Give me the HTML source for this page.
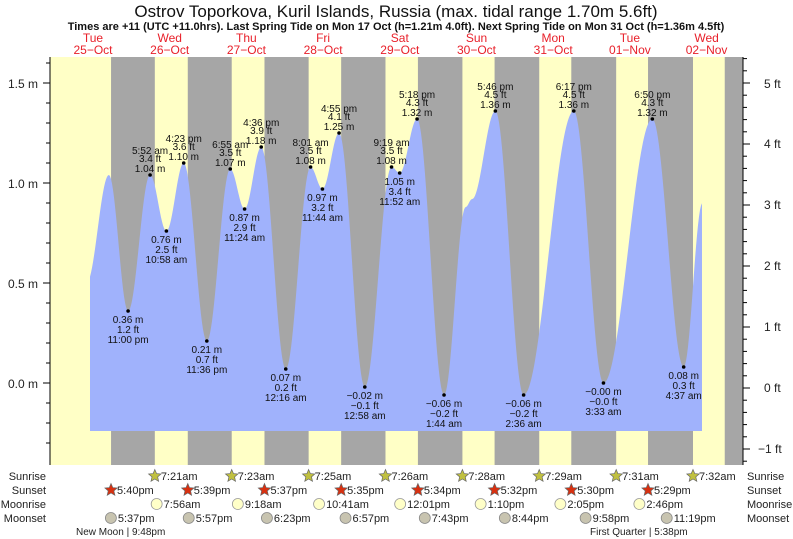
<!DOCTYPE html>
<html><head><meta charset="utf-8"><style>
body{margin:0;background:#fff}
svg{display:block;font-family:"Liberation Sans",sans-serif}
</style></head><body>
<svg id="s" width="793" height="539" xmlns="http://www.w3.org/2000/svg">
<g id="bands"></g>
<path id="water" fill="#a0b2fc" d=""/>
<g id="pts" font-size="10" fill="#111" text-anchor="middle"></g>
<line x1="50" y1="57" x2="50" y2="465" stroke="#000"/>
<line x1="743" y1="57" x2="743" y2="465" stroke="#000"/>
<g id="ticks" stroke="#000"></g>
<g font-size="12" fill="#222" text-anchor="end">
<text x="38" y="88">1.5 m</text><text x="38" y="188">1.0 m</text><text x="38" y="288">0.5 m</text><text x="38" y="388">0.0 m</text>
</g>
<g font-size="12" fill="#222" text-anchor="start">
<text x="764" y="88">5 ft</text><text x="764" y="148">4 ft</text><text x="764" y="209">3 ft</text><text x="764" y="270">2 ft</text><text x="764" y="331">1 ft</text><text x="764" y="392">0 ft</text><text x="758" y="453">−1 ft</text>
</g>
<text x="396" y="17" font-size="17" text-anchor="middle" fill="#111">Ostrov Toporkova, Kuril Islands, Russia (max. tidal range 1.70m 5.6ft)</text>
<text x="396" y="30" font-size="11" font-weight="bold" text-anchor="middle" fill="#111">Times are +11 (UTC +11.0hrs). Last Spring Tide on Mon 17 Oct (h=1.21m 4.0ft). Next Spring Tide on Mon 31 Oct (h=1.36m 4.5ft)</text>
<g id="days" font-size="12" fill="#e8202a" text-anchor="middle"></g>
<g font-size="11" fill="#222">
<text x="46" y="480" text-anchor="end">Sunrise</text><text x="46" y="494" text-anchor="end">Sunset</text><text x="46" y="508" text-anchor="end">Moonrise</text><text x="46" y="522" text-anchor="end">Moonset</text>
<text x="747" y="480">Sunrise</text><text x="747" y="494">Sunset</text><text x="747" y="508">Moonrise</text><text x="747" y="522">Moonset</text>
<text x="76" y="535" font-size="10">New Moon | 9:48pm</text>
<text x="590" y="535" font-size="10">First Quarter | 5:38pm</text>
</g>
<g id="ev" font-size="11" fill="#222"></g>
</svg>
<script>
const NS="http://www.w3.org/2000/svg";
function X(h){return 131.3+3.2*h;}
function Y(m){return 383-200*m;}
function el(p,t,a,txt){const e=document.createElementNS(NS,t);for(const k in a)e.setAttribute(k,a[k]);if(txt!==undefined)e.textContent=txt;document.getElementById(p).appendChild(e);return e;}
el("bands","rect",{x:50,y:57,width:693,height:408,fill:"#ffffc6"});
const ss=[-6.33,17.65,41.62,65.58,89.57,113.53,137.5,161.48,185.45];
const sr=[7.35,31.38,55.42,79.43,103.47,127.48,151.52,175.53,200];
for(let i=0;i<ss.length;i++){const a=X(ss[i]),b=Math.min(X(sr[i]),743);el("bands","rect",{x:a,y:57,width:b-a,height:408,fill:"#a6a6a6"});}
const dn=[["Tue","25\u2212Oct"],["Wed","26\u2212Oct"],["Thu","27\u2212Oct"],["Fri","28\u2212Oct"],["Sat","29\u2212Oct"],["Sun","30\u2212Oct"],["Mon","31\u2212Oct"],["Tue","01\u2212Nov"],["Wed","02\u2212Nov"]];
dn.forEach((d,i)=>{const x=93+76.7*i;el("days","text",{x:x,y:42},d[0]);el("days","text",{x:x,y:54},d[1]);});
const T=[[-14,0.5],[-7,1.04],[-1,0.36,"11:00 pm","1.2 ft",0],[5.87,1.04,"5:52 am","3.4 ft",1],[10.97,0.76,"10:58 am","2.5 ft",0],[16.38,1.10,"4:23 pm","3.6 ft",1],[23.6,0.21,"11:36 pm","0.7 ft",0],[30.92,1.07,"6:55 am","3.5 ft",1],[35.4,0.87,"11:24 am","2.9 ft",0],[40.6,1.18,"4:36 pm","3.9 ft",1],[48.27,0.07,"12:16 am","0.2 ft",0],[56.02,1.08,"8:01 am","3.5 ft",1],[59.73,0.97,"11:44 am","3.2 ft",0],[64.92,1.25,"4:55 pm","4.1 ft",1],[72.97,-0.02,"12:58 am","\u22120.1 ft",0],[81.32,1.08,"9:19 am","3.5 ft",1],[83.87,1.05,"11:52 am","3.4 ft",0],[89.3,1.32,"5:18 pm","4.3 ft",1],[97.73,-0.06,"1:44 am","\u22120.2 ft",0],[104.5,0.88],[106.5,0.92],[113.77,1.36,"5:46 pm","4.5 ft",1],[122.6,-0.06,"2:36 am","\u22120.2 ft",0],[138.28,1.36,"6:17 pm","4.5 ft",1],[147.55,0.00,"3:33 am","\u22120.0 ft",0,"\u22120.00 m"],[162.83,1.32,"6:50 pm","4.3 ft",1],[172.62,0.08,"4:37 am","0.3 ft",0],[178.5,0.9]];
let d="M90,431 ";
for(let x=90;x<=702;x++){
 let h=(x-131.3)/3.2,m=T[0][1];
 for(let i=0;i<T.length-1;i++){if(h>=T[i][0]&&h<=T[i+1][0]){const f=(h-T[i][0])/(T[i+1][0]-T[i][0]);m=T[i][1]+(T[i+1][1]-T[i][1])*(1-Math.cos(Math.PI*f))/2;break;}}
 d+="L"+x+","+Y(m).toFixed(1)+" ";
}
d+="L702,431 Z";document.getElementById("water").setAttribute("d",d);
T.forEach(t=>{if(!t[2])return;const x=X(t[0]),y=Y(t[1]);el("pts","circle",{cx:x,cy:y,r:1.8,fill:"#000"});
 const ms=t[5]||((t[1]<0?"\u2212"+(-t[1]).toFixed(2):t[1].toFixed(2))+" m");
 if(t[4]){el("pts","text",{x:x,y:y-3},ms);el("pts","text",{x:x,y:y-13},t[3]);el("pts","text",{x:x,y:y-21},t[2]);}
 else{el("pts","text",{x:x,y:y+12},ms);el("pts","text",{x:x,y:y+22},t[3]);el("pts","text",{x:x,y:y+32},t[2]);}
});
for(let v=-0.3;v<=1.61;v+=0.1){const y=Y(v),maj=Math.abs(v*2-Math.round(v*2))<0.01;el("ticks","line",{x1:maj?43:46,y1:y,x2:50,y2:y});}
for(let f=-1.2;f<=5.41;f+=0.2){const y=388-61*f,maj=Math.abs(f-Math.round(f))<0.01;el("ticks","line",{x1:743,y1:y,x2:maj?750:747,y2:y});}
function star(x,y,c){let p="";for(let i=0;i<10;i++){const r=i%2?3:6.5,a=-Math.PI/2+i*Math.PI/5;p+=(x+r*Math.cos(a)).toFixed(1)+","+(y+r*Math.sin(a)).toFixed(1)+" ";}el("ev","polygon",{points:p,fill:c,stroke:"#666","stroke-width":0.7});}
const srT=["7:21am","7:23am","7:25am","7:26am","7:28am","7:29am","7:31am","7:32am"];
srT.forEach((t,i)=>{const x=X(sr[i]);star(x,476,"#c0c040");el("ev","text",{x:x+6,y:480},t);});
const ssT=["5:40pm","5:39pm","5:37pm","5:35pm","5:34pm","5:32pm","5:30pm","5:29pm"];
ssT.forEach((t,i)=>{const x=X(ss[i]);star(x,490,"#d83010");el("ev","text",{x:x+6,y:494},t);});
const mr=[[7.93,"7:56am"],[33.3,"9:18am"],[58.68,"10:41am"],[84.02,"12:01pm"],[109.17,"1:10pm"],[134.08,"2:05pm"],[158.77,"2:46pm"]];
mr.forEach(m=>{const x=X(m[0]);el("ev","circle",{cx:x,cy:504,r:5.5,fill:"#ffffc8",stroke:"#999","stroke-width":0.8});el("ev","text",{x:x+7,y:508},m[1]);});
const ms=[[-6.38,"5:37pm"],[17.95,"5:57pm"],[42.38,"6:23pm"],[66.95,"6:57pm"],[91.72,"7:43pm"],[116.73,"8:44pm"],[141.97,"9:58pm"],[167.32,"11:19pm"]];
ms.forEach(m=>{const x=X(m[0]);el("ev","circle",{cx:x,cy:518,r:5.5,fill:"#c8c4b0",stroke:"#888","stroke-width":0.8});el("ev","text",{x:x+7,y:522},m[1]);});
</script>
</body></html>
